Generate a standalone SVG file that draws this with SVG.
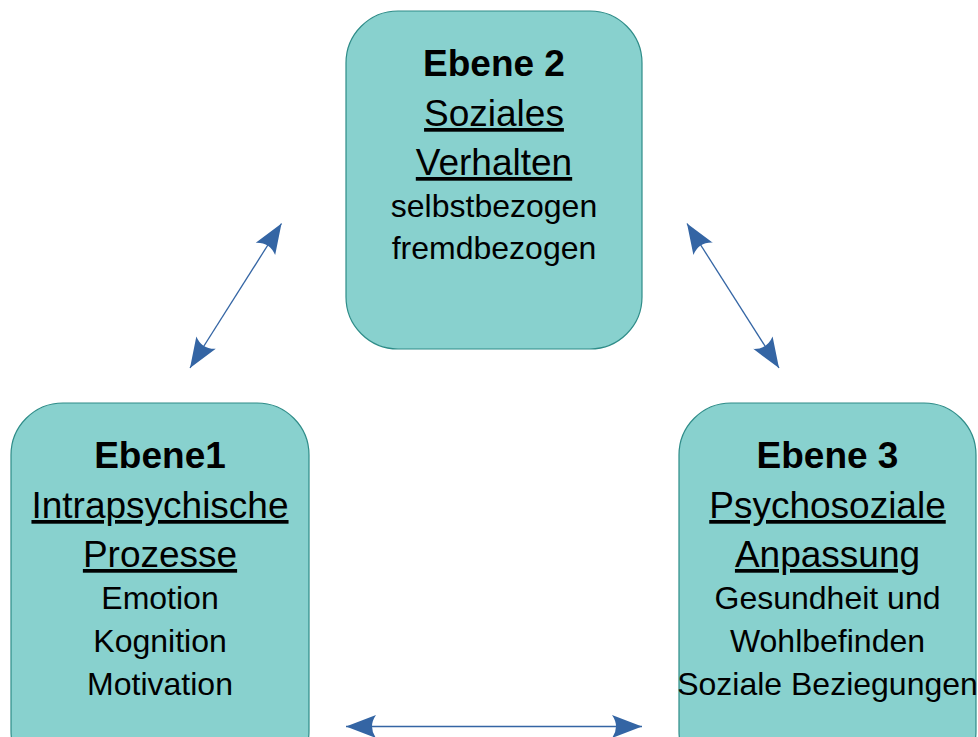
<svg xmlns="http://www.w3.org/2000/svg" width="978" height="737" viewBox="0 0 978 737">
<style>
.box{fill:#88d1ce;stroke:#2e8c88;stroke-width:1.2}
text{font-family:"Liberation Sans",Arial,sans-serif;fill:#000;text-anchor:middle}
.t{font-size:37px;font-weight:bold}
.s{font-size:37px;text-decoration:underline}
.d{font-size:32px}
.c{stroke:#3465a4;stroke-width:1.3;fill:none}
</style>
<defs>
<marker id="ah" markerUnits="userSpaceOnUse" viewBox="-32 -13 34 26" refX="0" refY="0" markerWidth="34" markerHeight="26" orient="auto-start-reverse">
<path d="M0,0 L-30,-11.5 Q-22,0 -30,11.5 Z" fill="#3465a4"/>
</marker>
</defs>
<rect width="978" height="737" fill="#fff"/>
<g id="connectors">
<line class="c" x1="190" y1="368" x2="281.5" y2="223.5" marker-start="url(#ah)" marker-end="url(#ah)"/>
<line class="c" x1="687" y1="223.5" x2="779" y2="368" marker-start="url(#ah)" marker-end="url(#ah)"/>
<line class="c" x1="346" y1="726.5" x2="642" y2="726.5" marker-start="url(#ah)" marker-end="url(#ah)"/>
</g>
<g id="ebene2">
<rect class="box" x="346" y="11" width="296" height="338" rx="52" ry="52"/>
<text class="t" x="494" y="76">Ebene 2</text>
<text class="s" x="494" y="126">Soziales</text>
<text class="s" x="494" y="175">Verhalten</text>
<text class="d" x="494" y="217">selbstbezogen</text>
<text class="d" x="494" y="259">fremdbezogen</text>
</g>
<g id="ebene1">
<rect class="box" x="11" y="403" width="298" height="380" rx="52" ry="52"/>
<text class="t" x="160" y="468">Ebene1</text>
<text class="s" x="160" y="518">Intrapsychische</text>
<text class="s" x="160" y="567">Prozesse</text>
<text class="d" x="160" y="609">Emotion</text>
<text class="d" x="160" y="652">Kognition</text>
<text class="d" x="160" y="695">Motivation</text>
</g>
<g id="ebene3">
<rect class="box" x="679" y="403" width="297" height="380" rx="52" ry="52"/>
<text class="t" x="827.5" y="468">Ebene 3</text>
<text class="s" x="827.5" y="518">Psychosoziale</text>
<text class="s" x="827.5" y="567">Anpassung</text>
<text class="d" x="827.5" y="609">Gesundheit und</text>
<text class="d" x="827.5" y="652">Wohlbefinden</text>
<text class="d" x="827.5" y="695">Soziale Beziegungen</text>
</g>
</svg>
